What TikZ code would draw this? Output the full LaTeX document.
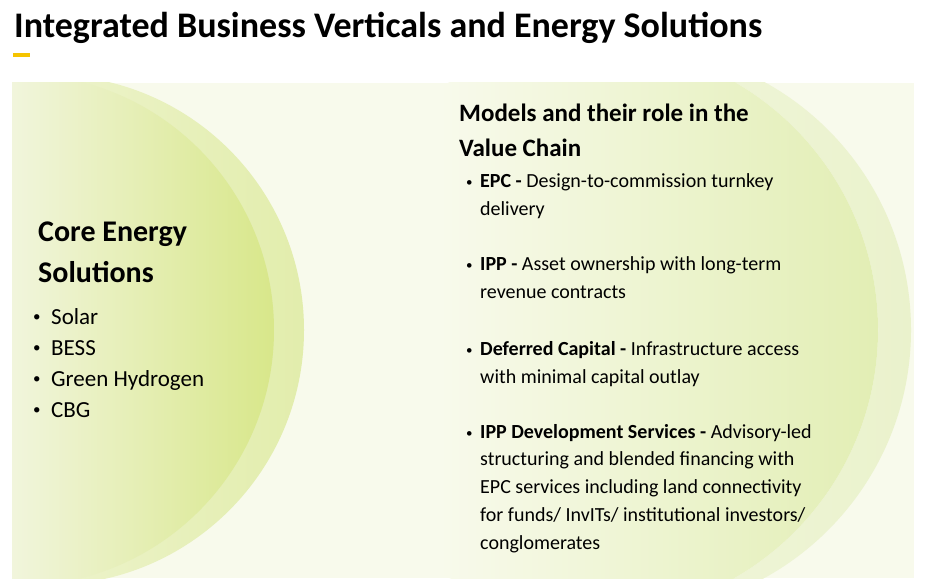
\documentclass[tikz,border=0pt]{standalone}
\usepackage{fontspec}
\setmainfont{Carlito}
\definecolor{panelbg}{RGB}{248,250,236}
\definecolor{leaflight}{RGB}{241,245,220}
\definecolor{leafdeep}{RGB}{216,231,138}
\definecolor{leafring}{RGB}{226,237,172}
\definecolor{valuedeep}{RGB}{226,238,180}
\definecolor{valuering}{RGB}{234,242,204}
\definecolor{markyellow}{RGB}{245,196,0}
\newcommand{\coredot}{\llap{\raisebox{2.3pt}{\fontsize{15}{15}\selectfont\textbullet}\hspace{10.5pt}}}
\newcommand{\modeldot}{\llap{\raisebox{1.2pt}{\fontsize{13}{13}\selectfont\textbullet}\hspace{7.5pt}}}

\begin{document}
\begin{tikzpicture}[x=1pt,y=-1pt,
    heading/.style={anchor=base west,inner sep=0,align=left,font=\bfseries\fontsize{30}{41}\selectfont},
    subheading/.style={anchor=base west,inner sep=0,align=left,font=\bfseries\fontsize{25}{35}\selectfont},
    corelist/.style={anchor=base west,inner sep=0,align=left,font=\fontsize{23}{31}\selectfont},
    model/.style={anchor=base west,inner sep=0,align=left,font=\fontsize{20}{27.7}\selectfont}]
    \useasboundingbox (0,0) rectangle (925,588);
    \node[anchor=base west,inner sep=0,font=\bfseries\fontsize{36}{40}\selectfont] (title) at (14,38)
        {Integrated Business Verticals and Energy Solutions};
    \fill[markyellow] (13,53) rectangle (30,57);
    \coordinate(PA) at (12,83);
    \coordinate(PB) at (914,578);
    \fill[panelbg] (PA) rectangle (PB);
    \begin{scope}
        \clip (PA) rectangle (PB);
        \shade[left color=panelbg,right color=valuering] (628,330) circle (283);
        \begin{scope}
            \clip (592,330) circle (286);
            \fill[panelbg] (PA) rectangle (PB);
            \shade[left color=panelbg,right color=valuedeep] (440,83) rectangle (878,578);
        \end{scope}
        \shade[left color=panelbg,right color=leafring] (49,330) circle (255);
        \begin{scope}
            \clip (18,330) circle (256);
            \shade[left color=leaflight,right color=leafdeep] (PA) rectangle (274,578);
        \end{scope}
    \end{scope}
    \node[heading] (core) at (38,282) {Core Energy\\Solutions};
    \node[corelist] (sources) at (51,417) {\coredot Solar\\
        \coredot BESS\\
        \coredot Green Hydrogen\\
        \coredot CBG};
    \node[subheading] (models) at (459,157) {Models and their role in the\\Value Chain};
    \node[model] (epc) at (480,215) {\modeldot\textbf{EPC -} Design-to-commission turnkey\\delivery};
    \node[model] (ipp) at (480,298) {\modeldot\textbf{IPP -} Asset ownership with long-term\\revenue contracts};
    \node[model] (capital) at (480,383) {\modeldot\textbf{Deferred Capital -} Infrastructure access\\with minimal capital outlay};
    \node[model] (ippdev) at (480,549) {\modeldot\textbf{IPP Development Services -} Advisory-led\\
        structuring and blended financing with\\
        EPC services including land connectivity\\
        for funds/ InvITs/ institutional investors/\\
        conglomerates};
\end{tikzpicture}
\end{document}
